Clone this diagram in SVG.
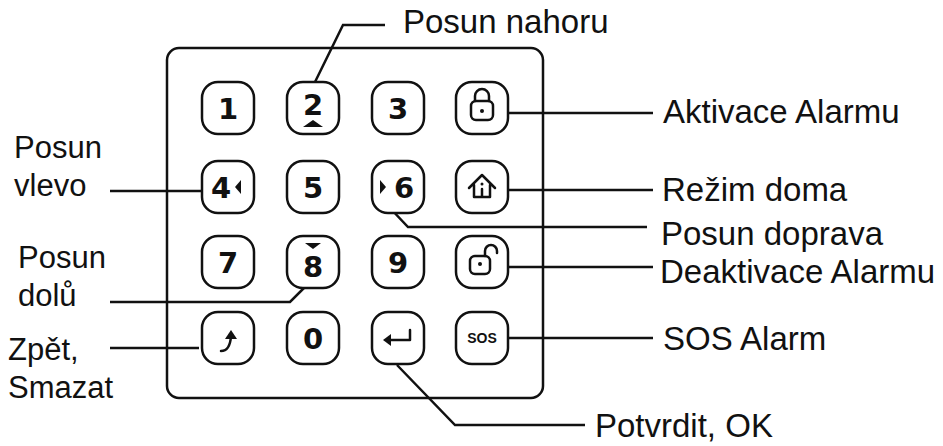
<svg xmlns="http://www.w3.org/2000/svg" width="943" height="446" viewBox="0 0 943 446">
<style>
.k{fill:#fff;stroke:#111;stroke-width:2.5}
.g{font-family:"DejaVu Sans",sans-serif;font-weight:bold;font-size:29px;fill:#111;text-anchor:middle}
.i{fill:none;stroke:#111;stroke-width:2.5;stroke-linecap:round;stroke-linejoin:round}
.c{fill:none;stroke:#111;stroke-width:2.5}
.t{font-family:"Liberation Sans",Arial,sans-serif;font-size:33px;fill:#111}
.l{font-size:31px}
</style>
<rect width="943" height="446" fill="#fff"/>
<g id="frame"><rect x="167" y="48" width="376" height="350" rx="12" fill="none" stroke="#111" stroke-width="2.5"/></g>
<g id="connectors">
<polyline class="c" points="315,82 343,25 385,25"/>
<line class="c" x1="507" y1="113" x2="653" y2="113"/>
<line class="c" x1="507" y1="190" x2="653" y2="190"/>
<polyline class="c" points="390,208 408,227 647,227"/>
<line class="c" x1="507" y1="267" x2="653" y2="267"/>
<line class="c" x1="507" y1="338" x2="653" y2="338"/>
<polyline class="c" points="397,365 455,425 585,425"/>
<line class="c" x1="110" y1="191" x2="202" y2="191"/>
<polyline class="c" points="110,302 290,302 311,281"/>
<line class="c" x1="110" y1="348" x2="199" y2="348"/>
</g>
<g id="k1"><rect class="k" x="202" y="82" width="52" height="52" rx="16"/><text class="g" x="228" y="119">1</text></g>
<g id="k2"><rect class="k" x="287" y="82" width="52" height="52" rx="16"/><text class="g" x="313" y="115">2</text><path d="M303,127 L313,120 L323,127 Z" fill="#111"/></g>
<g id="k3"><rect class="k" x="372" y="82" width="52" height="52" rx="16"/><text class="g" x="398" y="119">3</text></g>
<g id="k4lock"><rect class="k" x="456" y="82" width="52" height="52" rx="16"/><path class="i" d="M475,101 v-5 a7,7 0 0 1 14,0 v5"/><rect class="i" x="471" y="101" width="22" height="19" rx="5"/><circle cx="482" cy="111" r="2" fill="#111"/></g>
<g id="k4"><rect class="k" x="202" y="161" width="52" height="52" rx="16"/><text class="g" x="221" y="198">4</text><path d="M235,187 L241,180 L241,194 Z" fill="#111"/></g>
<g id="k5"><rect class="k" x="287" y="161" width="52" height="52" rx="16"/><text class="g" x="313" y="198">5</text></g>
<g id="k6"><rect class="k" x="372" y="161" width="52" height="52" rx="16"/><path d="M380,180 L386,187 L380,194 Z" fill="#111"/><text class="g" x="404" y="198">6</text></g>
<g id="khome"><rect class="k" x="456" y="161" width="52" height="52" rx="16"/><path class="i" d="M469,188 L482,175 L495,188 M474,185 v12 h16 v-12"/><line class="i" x1="482" y1="189" x2="482" y2="196"/><circle cx="482" cy="184" r="1.5" fill="#111"/></g>
<g id="k7"><rect class="k" x="202" y="236" width="52" height="52" rx="16"/><text class="g" x="228" y="273">7</text></g>
<g id="k8"><rect class="k" x="287" y="236" width="52" height="52" rx="16"/><path d="M305,243 L321,243 L313,249 Z" fill="#111"/><text class="g" x="313" y="277">8</text></g>
<g id="k9"><rect class="k" x="372" y="236" width="52" height="52" rx="16"/><text class="g" x="398" y="273">9</text></g>
<g id="kunlock"><rect class="k" x="456" y="236" width="52" height="52" rx="16"/><path class="i" d="M485,256 v-5 a6,6 0 0 1 12,0 v2"/><rect class="i" x="470" y="256" width="20" height="18" rx="5"/><circle cx="480" cy="264" r="2" fill="#111"/></g>
<g id="kback"><rect class="k" x="202" y="312" width="52" height="52" rx="16"/><path class="i" d="M221,351 q9,0 10,-15"/><path d="M225,339 L231,330 L237,339 Z" fill="#111"/></g>
<g id="k0"><rect class="k" x="287" y="312" width="52" height="52" rx="16"/><text class="g" x="313" y="349">0</text></g>
<g id="kenter"><rect class="k" x="372" y="312" width="52" height="52" rx="16"/><path class="i" d="M410,330 v10 h-21"/><path d="M383,340 L391,334 L391,346 Z" fill="#111"/></g>
<g id="ksos"><rect class="k" x="456" y="312" width="52" height="52" rx="16"/><text x="482" y="343" font-family="Liberation Sans,Arial,sans-serif" font-weight="bold" font-size="14" fill="#111" text-anchor="middle">SOS</text></g>
<g id="labels">
<text class="t" x="403" y="33">Posun nahoru</text>
<text class="t" x="663" y="123">Aktivace Alarmu</text>
<text class="t" x="662" y="201">Režim doma</text>
<text class="t" x="661" y="245">Posun doprava</text>
<text class="t" x="660" y="283">Deaktivace Alarmu</text>
<text class="t" x="663" y="350">SOS Alarm</text>
<text class="t" x="595" y="437">Potvrdit, OK</text>
<text class="t l" x="14" y="158">Posun</text>
<text class="t l" x="14" y="196">vlevo</text>
<text class="t l" x="18" y="268">Posun</text>
<text class="t l" x="18" y="306">dolů</text>
<text class="t l" x="8" y="360">Zpět,</text>
<text class="t l" x="8" y="398">Smazat</text>
</g>
</svg>
